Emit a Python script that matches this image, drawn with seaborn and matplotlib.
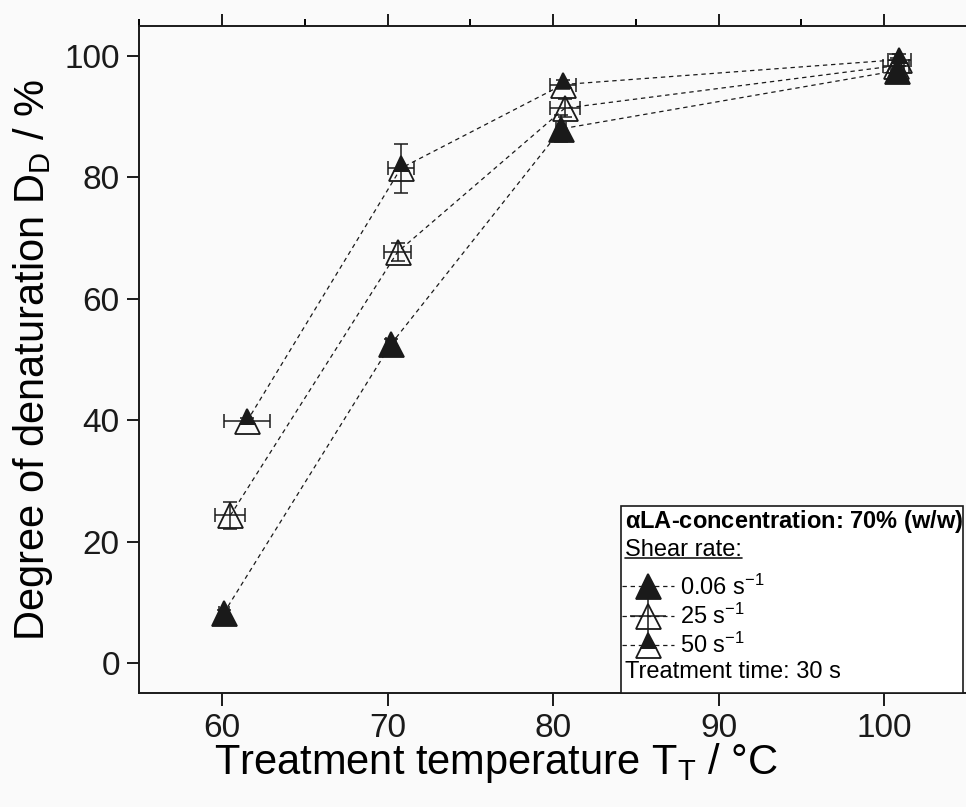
import matplotlib
matplotlib.use("Agg")
import matplotlib.pyplot as plt
import seaborn as sns
import pandas as pd
from matplotlib.lines import Line2D
from matplotlib.patches import Rectangle
from matplotlib.ticker import MultipleLocator

# values
# shear rate 0.06 1/s
temp_006 = [60.1, 70.2, 80.5, 100.8]
dd_006 = [8.2, 52.5, 88.0, 97.6]
xerr_006 = [0.3, 0.3, 0.3, 0.4]
yerr_006 = [0.5, 0.8, 2.2, 2.0]

# shear rate 25 1/s
temp_25 = [60.5, 70.6, 80.7, 100.7]
dd_25 = [24.3, 67.7, 91.4, 98.4]
xerr_25 = [0.9, 0.8, 0.9, 0.8]
yerr_25 = [2.3, 1.5, 1.5, 2.0]

# shear rate 50 1/s
temp_50 = [61.5, 70.8, 80.6, 100.9]
dd_50 = [39.8, 81.5, 95.3, 99.4]
xerr_50 = [1.4, 0.8, 0.8, 0.7]
yerr_50 = [0.5, 4.0, 0.8, 1.0]

legend_labels = [r"0.06 s$^{-1}$", r"25 s$^{-1}$", r"50 s$^{-1}$"]

sns.set_theme(style="ticks")
plt.rcParams['font.family'] = ['Liberation Sans', 'DejaVu Sans']
plt.rcParams['mathtext.fontset'] = 'custom'
plt.rcParams['mathtext.rm'] = 'Liberation Sans'
plt.rcParams['mathtext.it'] = 'Liberation Sans:italic'
plt.rcParams['mathtext.bf'] = 'Liberation Sans:bold'
for key in ['text.color', 'axes.labelcolor', 'xtick.color', 'ytick.color',
            'axes.edgecolor']:
    plt.rcParams[key] = 'black'

bg = "#fafafa"
fig = plt.figure(figsize=(9.66, 8.07), dpi=100, facecolor=bg)
ax = fig.add_axes([0.1442, 0.1409, 0.8568, 0.8273], facecolor=bg)

dash = (0, (3.5, 3))
marker_kw = dict(marker="^", markersize=18, markeredgecolor="k", markeredgewidth=1.3)

series = [
    (temp_006, dd_006, xerr_006, yerr_006, dict(markerfacecolor="k")),
    (temp_25, dd_25, xerr_25, yerr_25, dict(markerfacecolor="none")),
    (temp_50, dd_50, xerr_50, yerr_50,
     dict(markerfacecolor="k", fillstyle="top", markerfacecoloralt="none")),
]

for x, y, xe, ye, fkw in series:
    df = pd.DataFrame({"T": x, "DD": y})
    sns.lineplot(data=df, x="T", y="DD", ax=ax, color="k", lw=0.9,
                 linestyle=dash, sort=False, errorbar=None, legend=False)
    ax.errorbar(x, y, xerr=xe, yerr=ye, fmt="none", ecolor="k",
                elinewidth=1.1, capsize=5, capthick=1.1, zorder=3)
    ax.plot(x, y, ls="none", color="k", zorder=4, **marker_kw, **fkw)

ax.set_xlim(55, 105)
ax.set_ylim(-5, 105)
ax.set_xticks([60, 70, 80, 90, 100])
ax.set_yticks([0, 20, 40, 60, 80, 100])
ax.xaxis.set_minor_locator(MultipleLocator(5))

for s in ax.spines.values():
    s.set_linewidth(1.4)
    s.set_color("k")

ax.tick_params(which="major", direction="out", length=9, width=1.4,
               labelsize=24, top=True, pad=5, colors="k")
ax.tick_params(which="minor", direction="out", length=5, width=1.4,
               bottom=False, top=True)

ax.set_xlabel(r"Treatment temperature T$_\mathrm{T}$ / °C", fontsize=30)
ax.set_ylabel(r"Degree of denaturation D$_\mathrm{D}$ / %", fontsize=30)
ax.xaxis.set_label_coords(0.431, -0.072)
ax.yaxis.set_label_coords(-0.102, 0.5)

# legend box
box_left, box_right, box_top = 0.582, 0.9957, 0.28
ax.add_patch(Rectangle((box_left, 0), box_right - box_left, box_top,
                       transform=ax.transAxes, facecolor="white",
                       edgecolor="k", lw=1.2, zorder=5, clip_on=False))
tx = 0.5872
ax.text(tx, 0.257, r"$\mathbf{\alpha}$LA-concentration: 70% (w/w)",
        transform=ax.transAxes, fontsize=17, fontweight="bold",
        va="center", ha="left", zorder=6)
shear = ax.text(tx, 0.2147, "Shear rate:", transform=ax.transAxes,
                fontsize=17, va="center", ha="left", zorder=6)
ax.text(tx, 0.0319, "Treatment time: 30 s", transform=ax.transAxes,
        fontsize=17, va="center", ha="left", zorder=6)

h006 = Line2D([], [], color="k", lw=0.9, linestyle=dash, **marker_kw,
              markerfacecolor="k")
h25 = (Line2D([], [], color="k", lw=0.9, linestyle=dash, **marker_kw,
              markerfacecolor="none"),
       Line2D([], [], ls="none", color="k", marker="+", markersize=26,
              markeredgewidth=1.1))
h50 = Line2D([], [], color="k", lw=0.9, linestyle=dash, **marker_kw,
             markerfacecolor="k", fillstyle="top", markerfacecoloralt="none")
leg = ax.legend([h006, h25, h50], legend_labels, loc="upper left",
                bbox_to_anchor=(tx - 0.004, 0.178), frameon=False,
                fontsize=17, handlelength=2.2, handletextpad=0.25,
                labelspacing=0.17, borderpad=0, borderaxespad=0)
leg.set_zorder(6)

# underline "Shear rate:"
fig.canvas.draw()
bb = shear.get_window_extent()
inv = ax.transAxes.inverted()
(x0, y0), (x1, y1) = inv.transform([[bb.x0, bb.y0 + 3], [bb.x1, bb.y1]])
ax.plot([x0, x1], [y0, y0], transform=ax.transAxes, color="k", lw=1.2,
        clip_on=False, zorder=6)

fig.savefig("out.png", dpi=100, facecolor=bg)
